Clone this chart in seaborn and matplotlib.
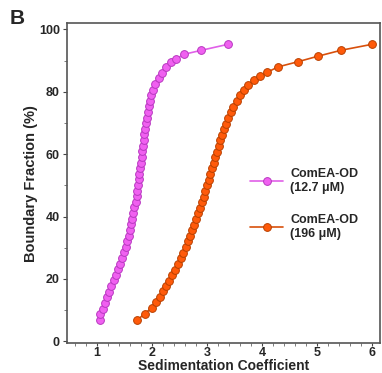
import numpy as np
import pandas as pd
import seaborn as sns
import matplotlib.pyplot as plt
from matplotlib.ticker import MultipleLocator

# ComEA-OD 12.7 uM
s_bajo = [1.05, 1.06, 1.10, 1.14, 1.18, 1.22, 1.26, 1.30, 1.34, 1.38, 1.42, 1.46,
          1.49, 1.52, 1.55, 1.58, 1.60, 1.62, 1.64, 1.66, 1.68, 1.70, 1.72, 1.73,
          1.75, 1.76, 1.77, 1.78, 1.80, 1.81, 1.82, 1.83, 1.85, 1.86, 1.88, 1.89,
          1.91, 1.92, 1.94, 1.96, 1.99, 2.02, 2.06, 2.12, 2.18, 2.26, 2.34, 2.44,
          2.58, 2.90, 3.38]
f_bajo = [6.8, 8.7, 10.5, 12.3, 14.1, 15.9, 17.7, 19.5, 21.3, 23.1, 24.9, 26.7,
          28.5, 30.3, 32.1, 33.9, 35.7, 37.5, 39.3, 41.1, 42.9, 44.7, 46.5, 48.3,
          50.1, 51.9, 53.7, 55.5, 57.3, 59.1, 60.9, 62.7, 64.5, 66.3, 68.1, 69.9,
          71.7, 73.5, 75.3, 77.1, 78.9, 80.7, 82.5, 84.3, 86.1, 87.9, 89.4, 90.5,
          92.0, 93.3, 95.2]

# ComEA-OD 196 uM
s_alto = [1.73, 1.87, 2.00, 2.08, 2.15, 2.20, 2.25, 2.31, 2.37, 2.42, 2.47, 2.52,
          2.57, 2.61, 2.65, 2.69, 2.73, 2.77, 2.80, 2.84, 2.87, 2.91, 2.94, 2.97,
          3.00, 3.03, 3.06, 3.09, 3.12, 3.15, 3.18, 3.21, 3.24, 3.28, 3.31, 3.35,
          3.39, 3.43, 3.48, 3.54, 3.60, 3.67, 3.75, 3.85, 3.97, 4.10, 4.30, 4.65,
          5.02, 5.44, 6.00]
f_alto = [6.8, 8.9, 10.8, 12.6, 14.3, 16.0, 17.6, 19.4, 21.2, 23.0, 24.8, 26.6,
          28.4, 30.2, 32.0, 33.8, 35.6, 37.4, 39.2, 41.0, 42.8, 44.6, 46.4, 48.2,
          50.0, 51.8, 53.6, 55.4, 57.2, 59.0, 60.8, 62.6, 64.4, 66.2, 68.0, 69.8,
          71.6, 73.4, 75.2, 77.0, 78.8, 80.6, 82.2, 83.8, 85.0, 86.3, 88.0, 89.6,
          91.4, 93.3, 95.2]

etiquetas = ['ComEA-OD\n(12.7 \u03bcM)', 'ComEA-OD\n(196 \u03bcM)']

sns.set_style('ticks')
plt.rcParams['font.family'] = ['Liberation Sans', 'DejaVu Sans']
plt.rcParams['font.weight'] = 'bold'

fig = plt.figure(figsize=(3.82, 3.73), dpi=100)
ax = fig.add_axes([0.175, 0.08, 0.82, 0.858])

sns.lineplot(x=s_bajo, y=f_bajo, sort=False, ax=ax, color='#e060e8',
             marker='o', markersize=5.6, markerfacecolor='#f060f0',
             markeredgecolor='#b838c0', markeredgewidth=0.7, linewidth=1.2,
             label=etiquetas[0])
sns.lineplot(x=s_alto, y=f_alto, sort=False, ax=ax, color='#d8500c',
             marker='o', markersize=5.6, markerfacecolor='#ff5a0a',
             markeredgecolor='#b84000', markeredgewidth=0.7, linewidth=1.2,
             label=etiquetas[1])

ax.set_xlim(0.45, 6.15)
ax.set_ylim(-0.6, 102)
ax.xaxis.set_major_locator(MultipleLocator(1))
ax.xaxis.set_minor_locator(MultipleLocator(0.2))
ax.yaxis.set_major_locator(MultipleLocator(20))
ax.yaxis.set_minor_locator(MultipleLocator(10))
ax.tick_params(which='major', labelsize=9, length=3, width=0.8, pad=2, color='#444444')
ax.tick_params(axis='x', which='major', length=2.5, pad=0.5)
ax.tick_params(which='minor', length=2, width=0.6, color='#666666')
for lab in ax.get_xticklabels() + ax.get_yticklabels():
    lab.set_fontweight('bold')
for sp in ax.spines.values():
    sp.set_visible(True)
    sp.set_color('#555555')
    sp.set_linewidth(1.2)

ax.set_xlabel('Sedimentation Coefficient', fontsize=10, fontweight='bold', labelpad=0)
ax.set_ylabel('Boundary Fraction (%)', fontsize=10.5, fontweight='bold', labelpad=1)

leg = ax.legend(loc='center left', bbox_to_anchor=(0.55, 0.435), frameon=False,
                fontsize=9, handlelength=2.6, handletextpad=0.6, labelspacing=1.6)
for t in leg.get_texts():
    t.set_fontweight('bold')

fig.text(0.025, 0.975, 'B', fontsize=15, fontweight='bold', va='top', ha='left')

fig.savefig('out.png', dpi=100)
